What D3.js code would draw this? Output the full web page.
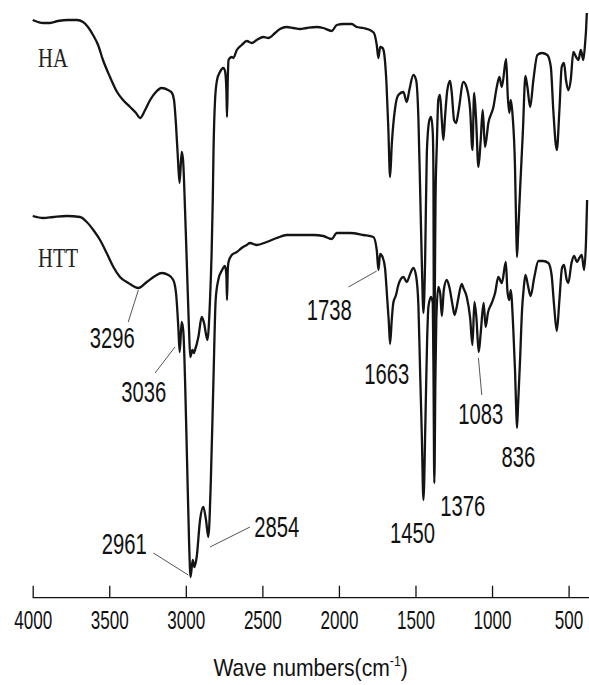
<!DOCTYPE html>
<html>
<head>
<meta charset="utf-8">
<script src="https://cdn.jsdelivr.net/npm/d3@7/dist/d3.min.js"></script>
<style>
body { margin: 0; background: #fff; }
svg { display: block; }
</style>
</head>
<body>
<svg id="chart" width="589" height="685"></svg>
<script>
"use strict";

/* spectra: [wavenumber cm-1, transmittance (a.u., offset)] */
var haSpectrum = [
    [4000,57.0],[3965,56.8],[3931,56.7],[3887,56.7],[3835,56.9],[3769,57.0],[3711,57.0],[3671,56.8],
    [3639,56.3],[3606,55.5],[3573,54.5],[3541,53.0],[3495,51.3],[3449,49.8],[3410,49.0],[3364,48.3],
    [3325,47.7],[3299,47.2],[3266,48.0],[3233,49.0],[3201,49.7],[3157,50.2],[3116,50.0],[3090,49.7],
    [3077,49.0],[3064,46.5],[3051,43.0],[3041,40.7],[3027,43.8],[3018,43.0],[3005,38.0],[2992,32.0],
    [2979,26.0],[2971,23.3],[2957,24.0],[2948,23.7],[2940,24.0],[2918,25.3],[2896,27.3],[2881,26.7],
    [2859,25.0],[2842,29.0],[2831,34.0],[2824,39.0],[2819,44.0],[2809,49.0],[2796,51.0],[2777,51.8],
    [2755,52.2],[2744,51.9],[2735,50.0],[2731,47.3],[2726,51.0],[2721,53.0],[2700,53.3],[2690,53.2],
    [2667,54.0],[2635,54.5],[2602,54.9],[2569,54.7],[2537,55.0],[2494,55.3],[2461,55.2],[2417,55.7],
    [2385,56.1],[2341,56.3],[2298,56.2],[2254,56.1],[2210,56.2],[2145,56.3],[2102,56.2],[2047,55.9],
    [2014,56.5],[1971,56.6],[1916,56.6],[1884,56.3],[1840,56.2],[1786,55.9],[1771,55.7],[1753,54.5],
    [1742,53.2],[1731,54.3],[1715,54.2],[1705,53.7],[1689,50.5],[1677,46.0],[1666,41.3],[1655,44.5],
    [1633,48.2],[1612,49.5],[1579,49.8],[1557,48.8],[1540,50.0],[1514,51.5],[1496,51.0],[1481,47.2],
    [1470,40.3],[1459,33.0],[1448,27.7],[1437,33.0],[1426,43.7],[1409,47.0],[1398,47.3],[1387,45.7],
    [1383,42.0],[1379,22.7],[1368,40.3],[1361,44.3],[1351,49.0],[1340,49.5],[1328,47.0],[1318,45.0],
    [1307,47.3],[1292,50.0],[1274,50.9],[1263,49.7],[1248,47.0],[1235,46.7],[1220,47.8],[1187,50.8],
    [1165,50.2],[1143,48.0],[1128,44.0],[1117,49.7],[1104,47.0],[1089,42.3],[1074,45.0],[1061,48.0],
    [1046,44.3],[1024,46.7],[991,48.3],[969,50.3],[952,51.3],[936,50.3],[908,53.1],[897,49.3],
    [887,47.7],[878,49.0],[865,47.3],[850,42.3],[842,36.0],[837,33.3],[830,35.5],[817,40.0],
    [799,45.7],[782,51.4],[769,50.3],[751,48.3],[730,51.0],[704,53.5],[675,53.7],[639,53.5],
    [616,52.3],[600,48.0],[577,44.0],[560,48.0],[545,52.3],[530,52.7],[517,51.0],[502,50.0],
    [486,51.0],[469,53.8],[451,53.3],[436,53.0],[420,54.0],[404,53.0],[392,54.7],[386,56.0],[381,57.7]
];

var httSpectrum = [
    [4000,37.4],[3931,37.2],[3865,37.3],[3778,37.4],[3691,37.3],[3647,36.8],[3604,36.0],[3560,35.0],
    [3517,33.7],[3473,32.3],[3430,31.3],[3375,30.7],[3310,30.2],[3255,30.8],[3201,31.4],[3157,31.7],
    [3114,31.5],[3082,31.0],[3064,29.7],[3049,26.3],[3040,23.8],[3027,26.8],[3016,25.8],[3005,21.0],
    [2992,13.0],[2979,5.0],[2969,1.3],[2955,3.0],[2944,2.3],[2929,3.3],[2907,7.0],[2886,8.3],
    [2868,7.0],[2853,5.3],[2837,10.7],[2820,20.7],[2805,29.0],[2788,31.0],[2763,32.0],[2744,32.4],
    [2735,31.5],[2731,29.0],[2726,32.0],[2721,32.8],[2700,33.5],[2667,33.8],[2635,34.2],[2602,34.5],
    [2581,34.7],[2537,34.5],[2472,34.8],[2406,35.2],[2341,35.5],[2276,35.5],[2167,35.5],[2102,35.4],
    [2047,35.1],[2014,35.7],[1927,35.7],[1840,35.5],[1775,35.3],[1753,34.0],[1742,32.0],[1731,33.6],
    [1715,33.3],[1699,32.2],[1684,29.0],[1675,27.0],[1666,24.6],[1655,27.0],[1645,28.7],[1627,29.5],
    [1612,30.5],[1579,31.3],[1557,30.8],[1535,31.6],[1514,32.2],[1496,31.4],[1481,28.5],[1470,22.0],
    [1459,15.7],[1448,9.0],[1435,17.0],[1424,25.0],[1415,28.4],[1398,29.3],[1387,28.7],[1382,21.0],
    [1377,10.7],[1370,21.0],[1364,27.0],[1351,30.3],[1338,29.6],[1328,27.4],[1315,30.0],[1296,31.0],
    [1279,30.3],[1258,28.5],[1245,27.5],[1232,28.2],[1220,29.2],[1198,30.6],[1187,30.2],[1165,29.3],
    [1143,27.2],[1128,24.5],[1115,28.8],[1102,27.2],[1087,23.8],[1074,25.7],[1055,28.7],[1042,26.3],
    [1027,27.7],[1002,28.7],[980,29.7],[959,31.3],[936,30.7],[910,32.8],[899,29.8],[887,29.0],
    [878,30.0],[861,26.0],[850,22.0],[842,18.0],[837,16.2],[830,18.5],[817,23.0],[804,28.0],
    [794,30.0],[782,31.5],[766,30.5],[748,29.4],[725,31.2],[697,32.9],[667,32.9],[632,32.7],
    [611,31.5],[595,28.5],[577,25.9],[560,29.0],[543,32.2],[530,32.5],[512,31.0],[502,30.7],
    [481,32.7],[464,33.4],[445,32.8],[430,33.2],[414,33.5],[399,32.0],[386,35.0],[379,39.0]
];

var seriesNames = ["HA", "HTT"];
var seriesNameAt = [[3965, 52.3], [3965, 32.3]];

var tickValues = [4000, 3500, 3000, 2500, 2000, 1500, 1000, 500];

/* peak annotations: text, text anchor [w, v], leader [w1, v1, w2, v2] or null */
var peakText = ["3296", "3036", "2961", "2854", "1738", "1663", "1450", "1376", "1083", "836"];
var peakTextAt = [
    [3481, 24.2], [3275, 18.8], [3402, 3.6], [2406, 5.3], [2063, 27.0],
    [1688, 20.6], [1519, 4.7], [1192, 7.4], [1073, 16.6], [828, 12.3]
];
var peakLeaders = [
    [3376, 26.8, 3310, 30.0], [3201, 21.7, 3071, 24.3], [3212, 3.7, 2984, 1.5],
    [2581, 6.3, 2842, 4.3], [1938, 30.3, 1753, 31.9], null, null, null,
    [1067, 19.5, 1089, 23.2], null
];

var svg = d3.select("#chart");
var width = +svg.attr("width");

var x = d3.scaleLinear().domain([4000, 370]).range([32.7, 588.5]);
var y = d3.scaleLinear().domain([0, 59]).range([590, 0]);

var line = d3.line()
    .x(function(d){ return x(d[0]); })
    .y(function(d){ return y(d[1]); })
    .curve(d3.curveMonotoneX);

// spectra
svg.selectAll(".spectrum")
    .data([haSpectrum, httSpectrum])
    .enter().append("path")
    .attr("class", "spectrum")
    .attr("d", line)
    .attr("fill", "none")
    .attr("stroke", "#141414")
    .attr("stroke-width", 2.3)
    .attr("stroke-linejoin", "round");

// series names
svg.selectAll(".series-name")
    .data(seriesNames)
    .enter().append("text")
    .attr("class", "series-name")
    .attr("transform", function(d, i){
        return "translate(" + x(seriesNameAt[i][0]) + "," + y(seriesNameAt[i][1]) + ") scale(0.75,1)";
    })
    .attr("font-family", "'Liberation Serif', 'Times New Roman', serif")
    .attr("font-size", 27.5)
    .attr("fill", "#222")
    .text(function(d){ return d; });

// leader lines
svg.selectAll(".leader")
    .data(peakLeaders.filter(function(d){ return d; }))
    .enter().append("line")
    .attr("class", "leader")
    .attr("x1", function(d){ return x(d[0]); })
    .attr("y1", function(d){ return y(d[1]); })
    .attr("x2", function(d){ return x(d[2]); })
    .attr("y2", function(d){ return y(d[3]); })
    .attr("stroke", "#555")
    .attr("stroke-width", 1);

// peak labels
svg.selectAll(".peak-label")
    .data(peakText)
    .enter().append("text")
    .attr("class", "peak-label")
    .attr("transform", function(d, i){
        return "translate(" + x(peakTextAt[i][0]) + "," + y(peakTextAt[i][1]) + ") scale(0.675,1)";
    })
    .attr("text-anchor", "middle")
    .attr("font-family", "'Liberation Sans', Arial, sans-serif")
    .attr("font-size", 30)
    .attr("fill", "#111")
    .text(function(d){ return d; });

// x axis
var axisY = 597.7;
var xAxis = d3.axisBottom(x)
    .tickValues(tickValues)
    .tickSize(-12)
    .tickSizeOuter(0)
    .tickFormat(d3.format("d"));

var axisG = svg.append("g")
    .attr("transform", "translate(0," + axisY + ")")
    .call(xAxis);

axisG.select(".domain")
    .attr("d", "M" + x(4000) + ",0H" + width)
    .attr("stroke", "#111")
    .attr("stroke-width", 1.3);
axisG.selectAll(".tick line")
    .attr("stroke", "#111")
    .attr("stroke-width", 1.3);
axisG.selectAll(".tick text")
    .attr("y", 31.6)
    .attr("dy", null)
    .attr("transform", "scale(0.67,1)")
    .attr("font-family", "'Liberation Sans', Arial, sans-serif")
    .attr("font-size", 25.5)
    .attr("fill", "#111");

// axis title
var title = svg.append("text")
    .attr("transform", "translate(" + ((x(4000) + x(370)) / 2) + ",676) scale(0.88,1)")
    .attr("text-anchor", "middle")
    .attr("font-family", "'Liberation Sans', Arial, sans-serif")
    .attr("font-size", 24)
    .attr("fill", "#111");
title.append("tspan").text("Wave numbers(cm");
title.append("tspan").attr("font-size", 14).attr("dy", -10).text("-1");
title.append("tspan").attr("dy", 10).text(")");
</script>
</body>
</html>
